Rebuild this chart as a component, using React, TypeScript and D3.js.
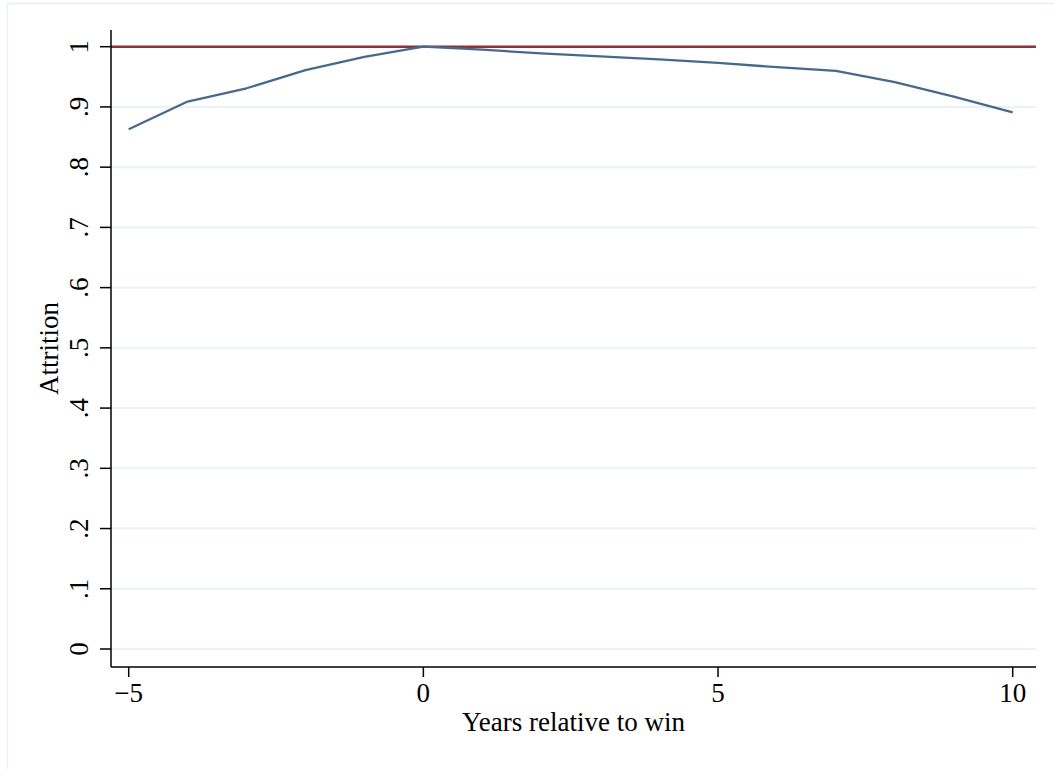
import * as d3 from "d3";

// years relative to win, and attrition estimate for each year
const years = [-5, -4, -3, -2, -1, 0, 1, 2, 3, 4, 5, 6, 7, 8, 9, 10];
const attrition = [
  0.863, 0.909, 0.931, 0.961, 0.983, 1.0, 0.995, 0.989, 0.984, 0.979, 0.973,
  0.966, 0.96, 0.941, 0.917, 0.891,
];
const yTicks = [0, 0.1, 0.2, 0.3, 0.4, 0.5, 0.6, 0.7, 0.8, 0.9, 1];
const yTickLabels = ["0", ".1", ".2", ".3", ".4", ".5", ".6", ".7", ".8", ".9", "1"];
const xTicks = [-5, 0, 5, 10];
const xTickLabels = ["\u22125", "0", "5", "10"];
const refLine = 1;

const width = 1054;
const height = 769;
const plot = { left: 111, right: 1036, top: 30, bottom: 667 };
const font = "'Liberation Serif', 'Times New Roman', serif";
const fs = 27;

export default function App() {
  const x = d3.scaleLinear().domain([-5, 10]).range([128.7, 1012.7]);
  const y = d3.scaleLinear().domain([0, 1]).range([649, 46.7]);

  const line = d3
    .line<number>()
    .x((_, i) => x(years[i]))
    .y((d) => y(d));

  return (
    <svg
      width={width}
      height={height}
      style={{ position: "absolute", left: 0, top: 0, background: "#fff" }}
    >
      {/* graph region outline, Stata style */}
      <rect
        x={7.5}
        y={3.5}
        width={1100}
        height={800}
        fill="none"
        stroke="#eaf1f3"
        strokeWidth={1.5}
      />

      {/* grid lines */}
      {yTicks.map((t) => (
        <line
          key={"g" + t}
          x1={plot.left}
          x2={plot.right}
          y1={y(t)}
          y2={y(t)}
          stroke="#eaf2f3"
          strokeWidth={2}
        />
      ))}

      {/* reference line at 1 */}
      <line
        x1={plot.left}
        x2={plot.right}
        y1={y(refLine)}
        y2={y(refLine)}
        stroke="#90303a"
        strokeWidth={2.5}
      />

      {/* estimate line */}
      <path
        d={line(attrition) ?? ""}
        fill="none"
        stroke="#47698c"
        strokeWidth={2.3}
        strokeLinejoin="round"
      />

      {/* y axis */}
      <line
        x1={plot.left}
        x2={plot.left}
        y1={plot.top}
        y2={plot.bottom}
        stroke="#000"
        strokeWidth={1.5}
      />
      {yTicks.map((t, i) => (
        <g key={"y" + t}>
          <line
            x1={plot.left - 11}
            x2={plot.left}
            y1={y(t)}
            y2={y(t)}
            stroke="#000"
            strokeWidth={1.5}
          />
          <text
            transform={`translate(88,${y(t)}) rotate(-90)`}
            textAnchor="middle"
            fontFamily={font}
            fontSize={fs}
            fill="#000"
          >
            {yTickLabels[i]}
          </text>
        </g>
      ))}
      <text
        transform={`translate(58,${(plot.top + plot.bottom) / 2}) rotate(-90)`}
        textAnchor="middle"
        fontFamily={font}
        fontSize={fs}
        fill="#000"
      >
        Attrition
      </text>

      {/* x axis */}
      <line
        x1={plot.left}
        x2={plot.right}
        y1={plot.bottom}
        y2={plot.bottom}
        stroke="#000"
        strokeWidth={1.5}
      />
      {xTicks.map((t, i) => (
        <g key={"x" + t}>
          <line
            x1={x(t)}
            x2={x(t)}
            y1={plot.bottom}
            y2={plot.bottom + 10}
            stroke="#000"
            strokeWidth={1.5}
          />
          <text
            x={x(t)}
            y={701.5}
            textAnchor="middle"
            fontFamily={font}
            fontSize={fs}
            fill="#000"
          >
            {xTickLabels[i]}
          </text>
        </g>
      ))}
      <text
        x={(plot.left + plot.right) / 2}
        y={731}
        textAnchor="middle"
        fontFamily={font}
        fontSize={fs}
        fill="#000"
      >
        Years relative to win
      </text>
    </svg>
  );
}
